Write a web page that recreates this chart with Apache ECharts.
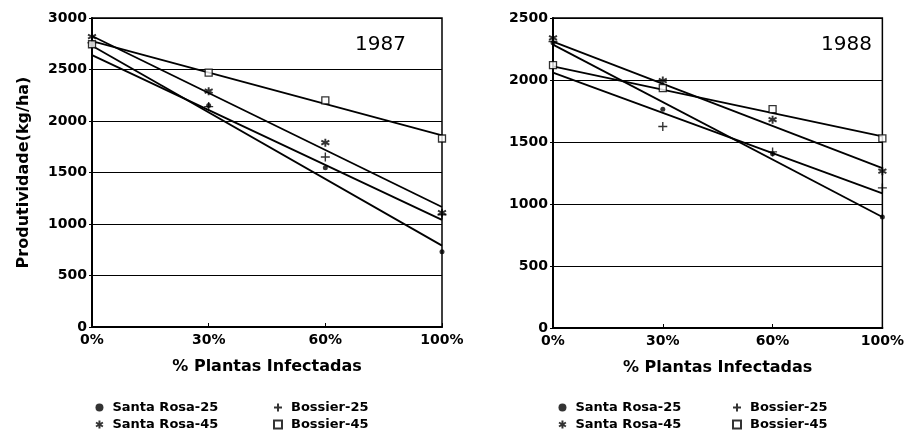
<!DOCTYPE html>
<html>
<head>
<meta charset="utf-8">
<script src="https://cdn.jsdelivr.net/npm/echarts@6/dist/echarts.min.js"></script>
<style>html,body{margin:0;padding:0;background:#fff}#c{width:907px;height:434px}</style>
</head>
<body>
<div id="c"></div>
<script>
// ---- data ----
const categories = ['0%', '30%', '60%', '100%'];
const yTicks1987 = [0, 3000, 500];
const yTicks1988 = [0, 2500, 500];
const seriesNames = ['Santa Rosa-25', 'Santa Rosa-45', 'Bossier-25', 'Bossier-45'];

// observed points 1987
const sr25_1987 = [2740, 2150, 1545, 730];
const sr45_1987 = [2820, 2290, 1790, 1110];
const b25_1987  = [2760, 2140, 1650, 1090];
const b45_1987  = [2745, 2470, 2200, 1830];
// fitted lines 1987 (value at 0% and 100%)
const fit_sr25_1987 = [2730, 790];
const fit_sr45_1987 = [2825, 1165];
const fit_b25_1987  = [2640, 1040];
const fit_b45_1987  = [2775, 1860];

// observed points 1988
const sr25_1988 = [2300, 1765, 1405, 895];
const sr45_1988 = [2340, 1995, 1680, 1265];
const b25_1988  = [2310, 1625, 1420, 1130];
const b45_1988  = [2120, 1935, 1765, 1530];
// fitted lines 1988
const fit_sr25_1988 = [2285, 895];
const fit_sr45_1988 = [2310, 1290];
const fit_b25_1988  = [2060, 1085];
const fit_b45_1988  = [2110, 1545];

// ---- style ----
const FONT = 'DejaVu Sans';
const symbols = {
  'Santa Rosa-25': {symbol: 'circle', symbolSize: 5, itemStyle: {color: '#000'}},
  'Santa Rosa-45': {symbol: 'path://M0,-5L0,5M-4.33,-2.5L4.33,2.5M-4.33,2.5L4.33,-2.5', symbolSize: 8,
                    itemStyle: {color: '#000', borderColor: '#000', borderWidth: 1.9}},
  'Bossier-25':    {symbol: 'path://M-5,0L5,0M0,-5L0,5', symbolSize: 9,
                    itemStyle: {color: '#000', borderColor: '#000', borderWidth: 1.4}},
  'Bossier-45':    {symbol: 'rect', symbolSize: 7,
                    itemStyle: {color: '#fff', borderColor: '#000', borderWidth: 1.3}}
};

function scatter(name, data, idx) {
  const s = symbols[name];
  return Object.assign({
    type: 'scatter', name: name, xAxisIndex: idx, yAxisIndex: idx,
    data: data.map((v, i) => [categories[i], v]), z: 5, silent: true
  }, s);
}
function fit(data, idx, key) {
  return {
    type: 'line', name: 'fit-' + key, xAxisIndex: idx, yAxisIndex: idx, symbol: 'none', silent: true,
    lineStyle: {color: '#000', width: 1.8},
    data: [[categories[0], data[0]], [categories[categories.length - 1], data[1]]]
  };
}

const grids = [
  {left: 92, top: 18, width: 350, height: 309},
  {left: 553, top: 18, width: 352, height: 310}
];

function xAxis(idx) {
  return {
    type: 'category', gridIndex: idx, data: categories, boundaryGap: false,
    name: '% Plantas Infectadas', nameLocation: 'middle', nameGap: 32,
    nameTextStyle: {fontFamily: FONT, fontWeight: 'bold', fontSize: 16, color: '#000'},
    axisLine: {lineStyle: {color: '#000', width: 2}},
    axisTick: {inside: true, length: 4, lineStyle: {color: '#000'}},
    axisLabel: {fontFamily: FONT, fontWeight: 'bold', fontSize: 14, color: '#000', margin: 6},
    splitLine: {show: false}
  };
}
function yAxis(idx, t, withName) {
  const a = {
    type: 'value', gridIndex: idx, min: t[0], max: t[1], interval: t[2],
    axisLine: {show: true, lineStyle: {color: '#000', width: 2}},
    axisTick: {show: true, length: 3, lineStyle: {color: '#000'}},
    axisLabel: {fontFamily: FONT, fontWeight: 'bold', fontSize: 14, color: '#000', margin: 5,
                formatter: v => String(v)},
    splitLine: {show: true, lineStyle: {color: '#000', width: 1}}
  };
  if (withName) {
    a.name = 'Produtividade(kg/ha)';
    a.nameLocation = 'middle';
    a.nameGap = 60;
    a.nameTextStyle = {fontFamily: FONT, fontWeight: 'bold', fontSize: 16, color: '#000'};
  }
  return a;
}

function legend(left, names) {
  return {
    orient: 'vertical', left: left, top: 401, height: 40, padding: 0, itemGap: 4, itemWidth: 8, itemHeight: 8,
    selectedMode: false, data: names,
    textStyle: {fontFamily: FONT, fontWeight: 'bold', fontSize: 13, color: '#000', padding: [0, 0, 0, 4]}
  };
}

const option = {
  animation: false,
  backgroundColor: '#fff',
  grid: grids.map(g => Object.assign({show: true, borderColor: '#000', borderWidth: 1.5, backgroundColor: 'transparent'}, g)),
  xAxis: [xAxis(0), xAxis(1)],
  yAxis: [yAxis(0, yTicks1987, true), yAxis(1, yTicks1988, false)],
  legend: [
    legend(95, ['Santa Rosa-25', 'Santa Rosa-45']),
    legend(273, ['Bossier-25', 'Bossier-45']),
    legend(558, ['Santa Rosa-25', 'Santa Rosa-45']),
    legend(732, ['Bossier-25', 'Bossier-45'])
  ],
  graphic: [
    {type: 'text', left: 355, top: 35, style: {text: '1987', font: '20px ' + FONT, fill: '#000'}},
    {type: 'text', left: 821, top: 35, style: {text: '1988', font: '20px ' + FONT, fill: '#000'}}
  ],
  series: [
    fit(fit_sr25_1987, 0, 'sr25-87'), fit(fit_sr45_1987, 0, 'sr45-87'),
    fit(fit_b25_1987, 0, 'b25-87'), fit(fit_b45_1987, 0, 'b45-87'),
    fit(fit_sr25_1988, 1, 'sr25-88'), fit(fit_sr45_1988, 1, 'sr45-88'),
    fit(fit_b25_1988, 1, 'b25-88'), fit(fit_b45_1988, 1, 'b45-88'),
    scatter('Santa Rosa-25', sr25_1987, 0), scatter('Santa Rosa-45', sr45_1987, 0),
    scatter('Bossier-25', b25_1987, 0), scatter('Bossier-45', b45_1987, 0),
    scatter('Santa Rosa-25', sr25_1988, 1), scatter('Santa Rosa-45', sr45_1988, 1),
    scatter('Bossier-25', b25_1988, 1), scatter('Bossier-45', b45_1988, 1)
  ]
};
echarts.init(document.getElementById('c')).setOption(option);
</script>
</body>
</html>
